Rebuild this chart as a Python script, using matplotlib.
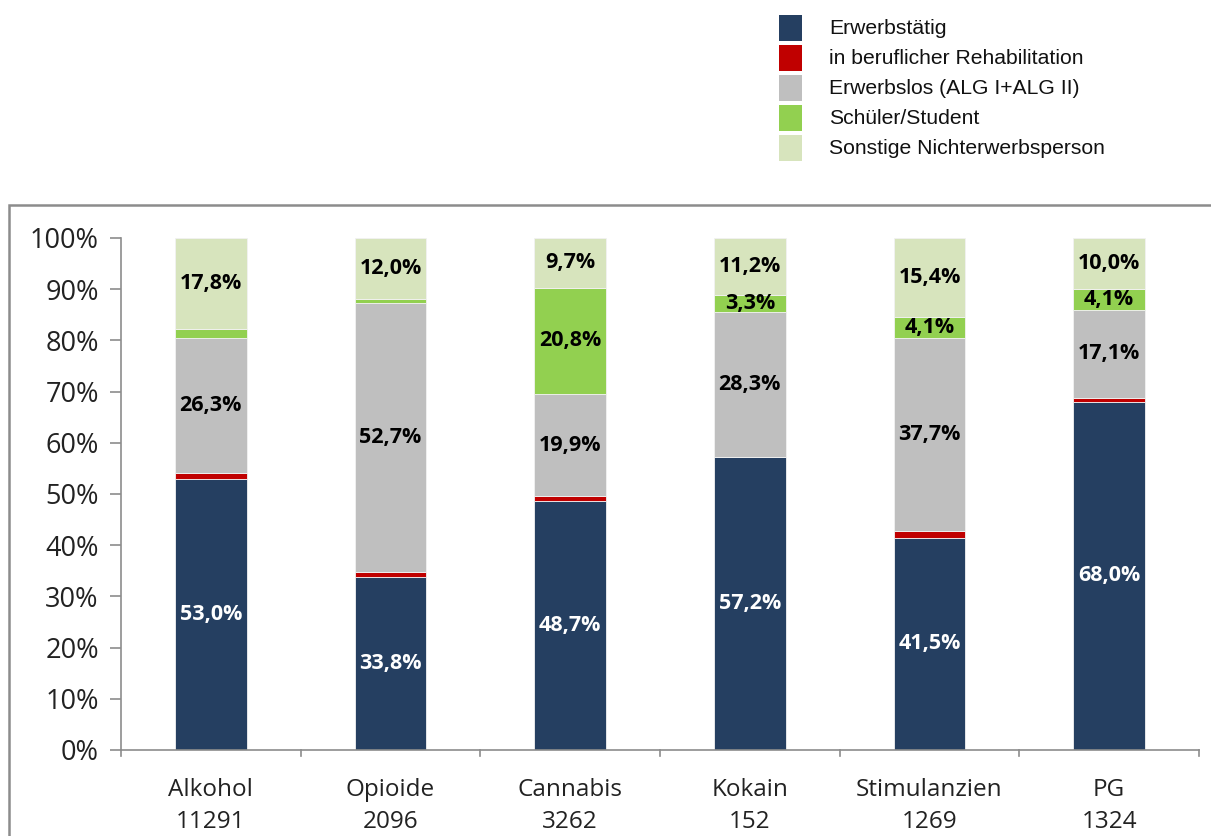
import matplotlib.pyplot as plt
from matplotlib.patches import Rectangle

# categories and group sizes
categories = ["Alkohol", "Opioide", "Cannabis", "Kokain", "Stimulanzien", "PG"]
counts = ["11291", "2096", "3262", "152", "1269", "1324"]

series_names = ["Erwerbstätig", "in beruflicher Rehabilitation",
                "Erwerbslos (ALG I+ALG II)", "Schüler/Student",
                "Sonstige Nichterwerbsperson"]

# percentages per series (bottom to top)
erwerbstaetig = [53.0, 33.8, 48.7, 57.2, 41.5, 68.0]
reha = [1.1, 0.9, 0.9, 0.0, 1.3, 0.8]
erwerbslos = [26.3, 52.7, 19.9, 28.3, 37.7, 17.1]
schueler = [1.8, 0.6, 20.8, 3.3, 4.1, 4.1]
sonstige = [17.8, 12.0, 9.7, 11.2, 15.4, 10.0]

# which segments get a value label
label_erwerbstaetig = [True] * 6
label_reha = [False] * 6
label_erwerbslos = [True] * 6
label_schueler = [False, False, True, True, True, True]
label_sonstige = [True] * 6

colors = ["#253F61", "#C00000", "#BFBFBF", "#92D050", "#D7E4BD"]
text_colors = ["white", "black", "black", "black", "black"]

series = [erwerbstaetig, reha, erwerbslos, schueler, sonstige]
labels = [label_erwerbstaetig, label_reha, label_erwerbslos, label_schueler, label_sonstige]

W, H = 1211, 836
fig = plt.figure(figsize=(W / 100, H / 100), dpi=100)

# outer chart frame
fig.patches.append(Rectangle((9 / W, -0.05), 1.0, (H - 205) / H + 0.05,
                             transform=fig.transFigure, fill=False,
                             edgecolor="#8C8C8C", linewidth=1.8))

ax = fig.add_axes([121 / W, (H - 750) / H, (1199 - 121) / W, (750 - 238) / H])

x = list(range(len(categories)))
bottom = [0.0] * len(categories)
for vals, col, tcol, lab in zip(series, colors, text_colors, labels):
    ax.bar(x, vals, width=0.4, bottom=bottom, color=col,
           edgecolor="#F2F2F2", linewidth=0.6)
    for i, v in enumerate(vals):
        if lab[i]:
            ax.text(i, bottom[i] + v / 2, f"{v:.1f}%".replace(".", ","),
                    ha="center", va="center", color=tcol,
                    fontsize=15.5, fontweight="bold", family="Open Sans")
    bottom = [b + v for b, v in zip(bottom, vals)]

ax.set_xlim(-0.5, len(categories) - 0.5)
ax.set_ylim(0, 100)
ax.set_yticks(range(0, 101, 10))
ax.set_yticklabels([f"{t}%" for t in range(0, 101, 10)],
                   fontsize=19.5, family="Open Sans", color="#222222")
ax.set_xticks(x)
ax.set_xticklabels([f"{c}\n{n}" for c, n in zip(categories, counts)],
                   fontsize=17.5, family="Open Sans", color="#222222",
                   linespacing=1.45)
ax.tick_params(axis="x", length=0, pad=20)
ax.tick_params(axis="y", length=8, width=1.2, color="#8C8C8C", pad=8)

# category separator ticks below x axis
for b in [i - 0.5 for i in range(len(categories) + 1)]:
    ax.plot([b, b], [0, -1.2], color="#8C8C8C", lw=1.2, clip_on=False)

for s in ["top", "right"]:
    ax.spines[s].set_visible(False)
for s in ["left", "bottom"]:
    ax.spines[s].set_color("#8C8C8C")
    ax.spines[s].set_linewidth(1.2)

# legend drawn by hand in the top right
for k, (name, col) in enumerate(zip(series_names, colors)):
    yc = 28 + k * 30
    fig.patches.append(Rectangle((779 / W, (H - yc - 13) / H), 23 / W, 26 / H,
                                 transform=fig.transFigure, facecolor=col,
                                 edgecolor="none"))
    fig.text(829 / W, (H - yc) / H, name, ha="left", va="center",
             fontsize=15.2, family="Liberation Sans", color="#111111")

fig.savefig("out.png", dpi=100)
